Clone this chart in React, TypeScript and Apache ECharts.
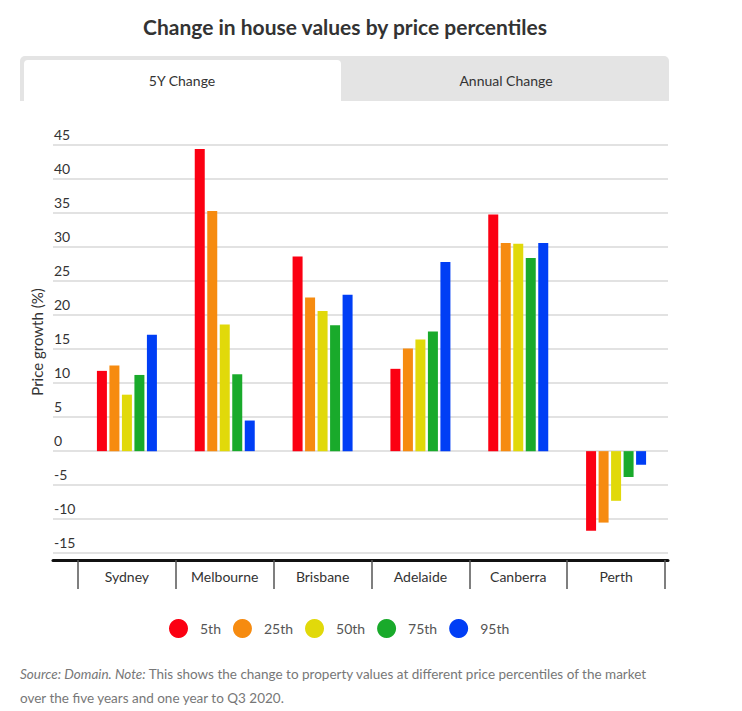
import React, { useEffect, useRef } from "react";
import * as echarts from "echarts";

const cities = ["Sydney", "Melbourne", "Brisbane", "Adelaide", "Canberra", "Perth"];
const percentiles = ["5th", "25th", "50th", "75th", "95th"];
const p5 = [11.8, 44.4, 28.6, 12.1, 34.8, -11.7];
const p25 = [12.6, 35.3, 22.6, 15.1, 30.6, -10.5];
const p50 = [8.3, 18.6, 20.6, 16.4, 30.5, -7.3];
const p75 = [11.2, 11.3, 18.5, 17.6, 28.4, -3.8];
const p95 = [17.1, 4.5, 23.0, 27.8, 30.6, -2.0];
const seriesValues = [p5, p25, p50, p75, p95];
const colors = ["#fb0012", "#f68b10", "#e1d90a", "#19aa2b", "#003ef5"];
const yMin = -15;
const yMax = 45;
const yStep = 5;
const barYMin = -16;

const FONT = "Lato, 'Open Sans', sans-serif";

export default function App() {
  const ref = useRef<HTMLDivElement>(null);
  useEffect(() => {
    if (!ref.current) return;
    const chart = echarts.init(ref.current, undefined, { renderer: "svg" });
    const option: any = {
      animation: false,
      backgroundColor: "#ffffff",
      textStyle: { fontFamily: FONT },
      grid: [
        { left: 53, right: 74, top: 145, bottom: 158 },
        { left: 78, right: 77, top: 145, bottom: 151 },
        { left: 53, right: 74, top: 145, bottom: 151 },
      ],
      xAxis: [
        { gridIndex: 0, type: "value", show: false },
        {
          gridIndex: 1,
          type: "category",
          data: cities,
          boundaryGap: true,
          axisLine: { show: false, onZero: false },
          axisTick: { show: true, length: 29, lineStyle: { color: "#555", width: 1.5 } },
          axisLabel: { color: "#333", fontSize: 14, margin: 9, fontFamily: FONT },
          splitLine: { show: false },
        },
        {
          gridIndex: 2,
          type: "value",
          axisLine: { show: true, onZero: false, lineStyle: { color: "#111", width: 3 } },
          axisTick: { show: false },
          axisLabel: { show: false },
          splitLine: { show: false },
        },
      ],
      yAxis: [
        {
          gridIndex: 0,
          type: "value",
          min: yMin,
          max: yMax,
          interval: yStep,
          axisLine: { show: false },
          axisTick: { show: false },
          axisLabel: {
            inside: true,
            margin: 1,
            verticalAlign: "bottom",
            padding: [0, 0, 4, 0],
            color: "#333",
            fontSize: 14,
            fontFamily: FONT,
          },
          splitLine: { show: true, lineStyle: { color: "#d8d8d8", width: 1.5 } },
        },
        { gridIndex: 1, type: "value", min: barYMin, max: yMax, show: false },
        { gridIndex: 2, type: "value", show: false },
      ],
      legend: {
        data: percentiles,
        left: 164,
        top: 614,
        icon: "circle",
        itemWidth: 19,
        itemHeight: 19,
        itemGap: 12,
        textStyle: { color: "#555", fontSize: 14, fontFamily: FONT, padding: [0, 0, 0, 7] },
      },
      series: percentiles.map((name, i) => ({
        name,
        type: "bar",
        xAxisIndex: 1,
        yAxisIndex: 1,
        data: seriesValues[i],
        barWidth: 10,
        barGap: "25%",
        itemStyle: { color: colors[i] },
      })),
      graphic: [
        {
          type: "text",
          x: 345,
          y: 26,
          style: {
            text: "Change in house values by price percentiles",
            align: "center",
            verticalAlign: "middle",
            fontSize: 21,
            fontWeight: "bold",
            fontFamily: FONT,
            fill: "#333",
          },
        },
        {
          type: "rect",
          shape: { x: 20, y: 56, width: 649, height: 45, r: [5, 5, 0, 0] },
          style: { fill: "#e4e4e4" },
        },
        {
          type: "rect",
          shape: { x: 24, y: 60, width: 317, height: 41, r: [4, 4, 0, 0] },
          style: { fill: "#ffffff" },
        },
        {
          type: "text",
          x: 182,
          y: 80,
          style: {
            text: "5Y Change",
            align: "center",
            verticalAlign: "middle",
            fontSize: 14,
            fontFamily: FONT,
            fill: "#333",
          },
        },
        {
          type: "text",
          x: 506,
          y: 80,
          style: {
            text: "Annual Change",
            align: "center",
            verticalAlign: "middle",
            fontSize: 14,
            fontFamily: FONT,
            fill: "#333",
          },
        },
        {
          type: "text",
          x: 37,
          y: 342,
          rotation: Math.PI / 2,
          style: {
            text: "Price growth (%)",
            align: "center",
            verticalAlign: "middle",
            fontSize: 15,
            fontFamily: FONT,
            fill: "#333",
          },
        },
        {
          type: "text",
          x: 20,
          y: 662,
          style: {
            text:
              "{i|Source: Domain. Note:} This shows the change to property values at different price percentiles of the market\nover the five years and one year to Q3 2020.",
            fontSize: 13.5,
            lineHeight: 24,
            fontFamily: FONT,
            fill: "#777",
            rich: { i: { fontStyle: "italic", fontSize: 13.5, fontFamily: FONT, fill: "#777", lineHeight: 24 } },
          },
        },
      ],
    };
    chart.setOption(option);
    return () => chart.dispose();
  }, []);
  return (
    <div
      ref={ref}
      style={{ position: "fixed", left: 0, top: 0, width: 742, height: 711 }}
    />
  );
}
